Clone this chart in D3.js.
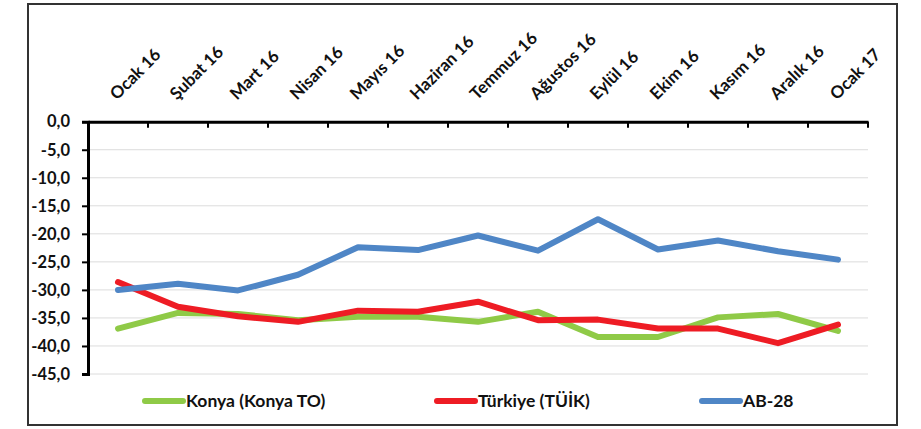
<!DOCTYPE html>
<html><head><meta charset="utf-8">
<script src="https://cdn.jsdelivr.net/npm/d3@7"></script>
<style>
body{margin:0;background:#fff;}
svg{display:block;font-family:Lato,"Open Sans",sans-serif;font-weight:bold;}
</style></head>
<body><svg id="c" width="921" height="429"></svg>
<script>
const categories = ["Ocak 16","Şubat 16","Mart 16","Nisan 16","Mayıs 16","Haziran 16","Temmuz 16","Ağustos 16","Eylül 16","Ekim 16","Kasım 16","Aralık 16","Ocak 17"];
const konya   = [-36.9,-34.1,-34.3,-35.4,-34.8,-34.8,-35.7,-33.9,-38.4,-38.4,-34.9,-34.3,-37.3];
const turkiye = [-28.6,-33.0,-34.7,-35.7,-33.7,-33.9,-32.1,-35.4,-35.3,-36.9,-36.9,-39.5,-36.2];
const ab28    = [-30.0,-28.9,-30.1,-27.3,-22.4,-22.9,-20.3,-23.0,-17.4,-22.8,-21.2,-23.1,-24.6];
const yTicks  = [0,-5,-10,-15,-20,-25,-30,-35,-40,-45];
const seriesNames = ["Konya (Konya TO)","Türkiye (TÜİK)","AB-28"];
const seriesColors = ["#8fca47","#ee1c24","#4f86c6"];

const svg = d3.select("#c");
const L = 88, R = 868, T = 121.7, B = 374;
const x = d3.scaleBand().domain(categories).range([L,R]);
const y = d3.scaleLinear().domain([0,-45]).range([T,B]);
const fmt = v => d3.format(".1f")(v).replace(".",",").replace("−","-");

// outer border
svg.append("rect").attr("x",28).attr("y",4).attr("width",869).attr("height",421)
  .attr("fill","#fff").attr("stroke","#333").attr("stroke-width",2);

// gridlines
svg.append("g").selectAll("line").data(yTicks.slice(1)).join("line")
  .attr("x1",L).attr("x2",R).attr("y1",d=>y(d)).attr("y2",d=>y(d))
  .attr("stroke","#dcdcdc").attr("stroke-width",1);

// y axis
const ya = svg.append("g").attr("transform",`translate(${L},0)`)
  .call(d3.axisLeft(y).tickValues(yTicks).tickFormat(fmt).tickSize(6).tickPadding(12));
ya.select(".domain").attr("stroke","#000").attr("stroke-width",3);
ya.selectAll(".tick line").attr("stroke","#000").attr("stroke-width",2);
ya.selectAll("text").attr("fill","#111").style("font-size","16.5px").style("font-family","Lato,sans-serif").style("font-weight","bold");

// x axis at top (y=0)
const xa = svg.append("g").attr("transform",`translate(0,${y(0)})`)
  .call(d3.axisBottom(x).tickSize(0).tickFormat(""));
xa.select(".domain").attr("stroke","#000").attr("stroke-width",3);
const bounds = categories.slice(1).map(c=>x(c)).concat([R]);
xa.append("g").selectAll("line").data(bounds).join("line")
  .attr("x1",d=>d).attr("x2",d=>d).attr("y1",0).attr("y2",6)
  .attr("stroke","#000").attr("stroke-width",2);

// category labels
svg.append("g").selectAll("text").data(categories).join("text")
  .attr("transform",d=>`translate(${x(d)+x.bandwidth()/2-1},${T-21}) rotate(-45)`)
  .attr("text-anchor","start").attr("fill","#111")
  .style("font-size","17px").text(d=>d);

// lines
const line = d3.line().x((d,i)=>x(categories[i])+x.bandwidth()/2).y(d=>y(d));
[konya,turkiye,ab28].forEach((s,k)=>{
  svg.append("path").datum(s).attr("d",line).attr("fill","none")
    .attr("stroke",seriesColors[k]).attr("stroke-width",6)
    .attr("stroke-linejoin","round").attr("stroke-linecap","round");
});

// legend
const legX = [145,437,702];
const leg = svg.append("g");
seriesNames.forEach((n,k)=>{
  leg.append("line").attr("x1",legX[k]).attr("x2",legX[k]+38).attr("y1",401).attr("y2",401)
    .attr("stroke",seriesColors[k]).attr("stroke-width",6).attr("stroke-linecap","round");
  leg.append("text").attr("x",legX[k]+41).attr("y",407).attr("fill","#111")
    .style("font-size","17.5px").text(n);
});
</script></body></html>
